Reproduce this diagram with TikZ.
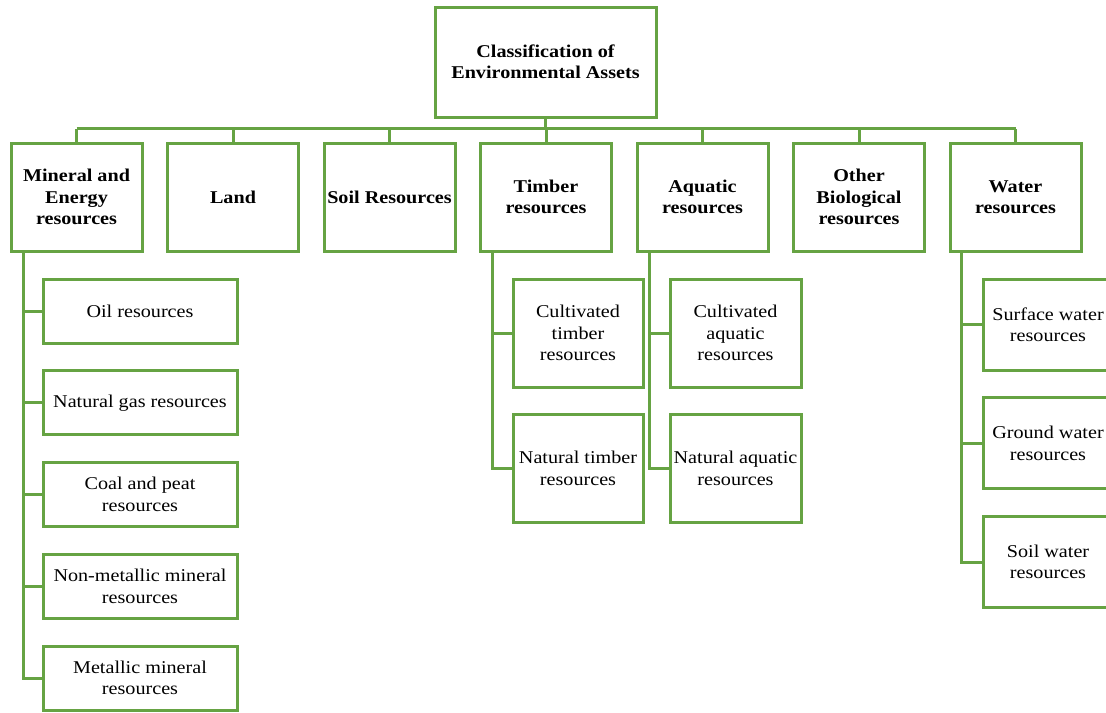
\documentclass[tikz,border=0pt]{standalone}
\usepackage{fontspec}
\setmainfont{Liberation Serif}[FakeStretch=1.12]
\definecolor{gruen}{HTML}{66A343}
\begin{document}
\begin{tikzpicture}[x=0.5pt, y=-0.5pt,
        b/.style={draw=gruen, line width=1.5pt, inner sep=0pt, align=center, fill=white,
                  font=\fontsize{9}{10.75}\selectfont},
        fb/.style={b, font=\fontsize{9}{10.75}\selectfont\bfseries},
        wurzel/.style={fb, minimum width=110.5pt, minimum height=55pt},
        hb/.style={fb, minimum width=65.5pt, minimum height=54pt},
        mb/.style={b, minimum width=97pt, minimum height=32pt},
        tb/.style={b, minimum width=65pt, minimum height=54pt},
        wb/.style={b, minimum width=65pt, minimum height=45.5pt},
        link/.style={draw=gruen, line width=1.5pt}]
        \useasboundingbox (0,0) rectangle (1106,712);
        % Wurzel
        \node[wurzel] (root) at (545.5,62) {Classification of\\Environmental Assets};
        % Hauptklassen
        \foreach \l [count=\i from 0] in {{Mineral and\\Energy\\resources}, Land, Soil Resources,
            {Timber\\resources}, {Aquatic\\resources}, {Other\\Biological\\resources}, {Water\\resources}}
            {\node[hb] (k\i) at (76.5+156.5*\i,197) {\l};}
        % Sammelschiene
        \path (k0.north) ++(0,-13) coordinate (busL);
        \path (k6.north) ++(0,-13) coordinate (busR);
        \draw[link] (busL) -- (busR);
        \draw[link] (root.south) -- (root.south |- busL);
        \foreach \i in {0,...,6} {\draw[link] (k\i.north) -- (k\i.north |- busL);}
        % Mineral und Energie
        \foreach \l [count=\j from 0] in {Oil resources, Natural gas resources, {Coal and peat\\resources},
            {Non-metallic mineral\\resources}, {Metallic mineral\\resources}}
            {\node[mb] (m\j) at (140,311+91.75*\j) {\l};
             \draw[link] ([xshift=7pt]k0.south west) |- (m\j.west);}
        % Holz
        \foreach \l [count=\j from 0] in {{Cultivated\\timber\\resources}, {Natural timber\\resources}}
            {\node[tb] (t\j) at (578,333+135.5*\j) {\l};
             \draw[link] ([xshift=6.5pt]k3.south west) |- (t\j.west);}
        % Aquatisch
        \foreach \l [count=\j from 0] in {{Cultivated\\aquatic\\resources}, {Natural aquatic\\resources}}
            {\node[tb, minimum width=65.5pt] (a\j) at (735.5,333+135.5*\j) {\l};
             \draw[link] ([xshift=7pt]k4.south west) |- (a\j.west);}
        % Wasser
        \foreach \l [count=\j from 0] in {{Surface water\\resources}, {Ground water\\resources}, {Soil water\\resources}}
            {\node[wb] (w\j) at (1048,324.5+118.75*\j) {\l};
             \draw[link] ([xshift=6.5pt]k6.south west) |- (w\j.west);}
    \end{tikzpicture}
\end{document}
